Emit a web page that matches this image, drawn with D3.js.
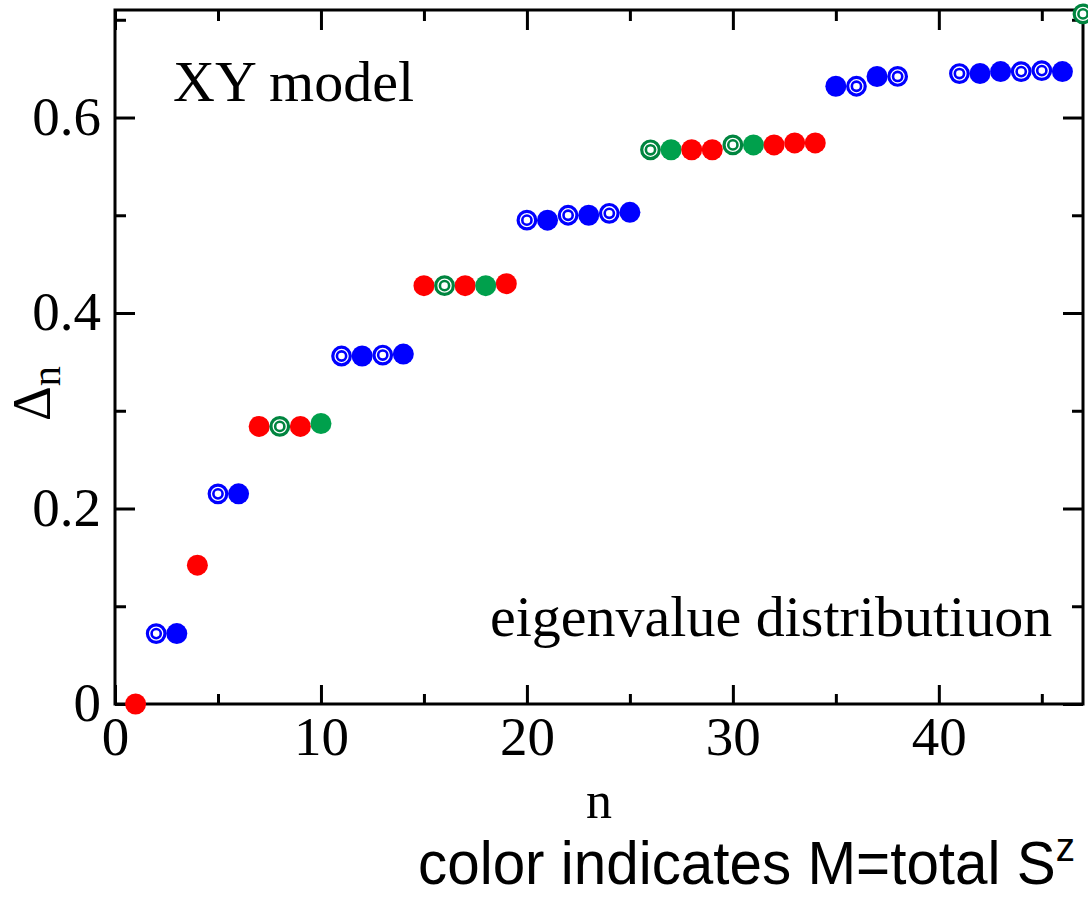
<!DOCTYPE html>
<html>
<head>
<meta charset="utf-8">
<script src="https://cdn.jsdelivr.net/npm/d3@7"></script>
<style>
  html, body { margin: 0; padding: 0; background: #fff; }
  svg { display: block; }
</style>
</head>
<body>
<svg id="chart" width="1088" height="898"></svg>
<script>
// ---- data ----
const nValues = [1,2,3,4,5,6,7,8,9,10,11,12,13,14,15,16,17,18,19,20,21,22,23,24,25,26,27,28,29,30,31,32,33,34,35,36,37,38,41,42,43,44,45,46,47];
const deltaValues = [0.000,0.072,0.072,0.142,0.215,0.215,0.284,0.284,0.284,0.287,
                     0.356,0.356,0.357,0.358,0.428,0.428,0.428,0.428,0.430,
                     0.495,0.495,0.500,0.500,0.502,0.503,
                     0.567,0.567,0.567,0.567,0.572,0.572,0.572,0.574,0.574,
                     0.632,0.632,0.642,0.642,0.645,0.645,0.647,0.647,0.648,0.647,0.706];
// M sector colour key: r = red, b = blue, g = green
const sectorKeys = ["r","b","b","r","b","b","r","g","r","g",
                    "b","b","b","b","r","g","r","g","r",
                    "b","b","b","b","b","b",
                    "g","g","r","r","g","g","r","r","r",
                    "b","b","b","b","b","b","b","b","b","b","g"];
// marker kind: f = filled circle, o = double ring
const markerKinds = ["f","o","f","f","o","f","f","o","f","f",
                     "o","f","o","f","f","o","f","f","f",
                     "o","f","o","f","o","f",
                     "o","f","f","f","o","f","f","f","f",
                     "f","o","f","o","o","f","f","o","o","f","o"];
const xMajorTicks = [0,10,20,30,40];
const xMinorTicks = [5,15,25,35,45];
const yMajorTicks = [0,0.2,0.4,0.6];
const yMinorTicks = [0.1,0.3,0.5,0.7];
const yTickLabels = ["0","0.2","0.4","0.6"];

const fillColor = {r:"#ff0000", b:"#0000ff", g:"#00a04c"};
const ringColor = {r:"#ff0000", b:"#0000ff", g:"#00853f"};

const points = nValues.map((n,i)=>({n, d: deltaValues[i], k: sectorKeys[i], m: markerKinds[i]}));

// ---- layout ----
const svg = d3.select("#chart");
const L = 115, R = 1083, T = 10, B = 704;
const x = d3.scaleLinear().domain([0,47]).range([L,R]);
const y = d3.scaleLinear().domain([0,0.71]).range([B,T]);
const serif = "'Liberation Serif','Times New Roman',Times,serif";

// frame
svg.append("rect").attr("x",L).attr("y",T).attr("width",R-L).attr("height",B-T)
  .attr("fill","none").attr("stroke","#000").attr("stroke-width",3);

function styleAxis(g){
  g.select(".domain").remove();
  g.selectAll(".tick line").attr("stroke","#000").attr("stroke-width",3);
}
// bottom
svg.append("g").attr("transform",`translate(0,${B})`)
  .call(d3.axisBottom(x).tickValues(xMajorTicks).tickSizeInner(-19).tickSizeOuter(0).tickPadding(14).tickFormat(d3.format("d")))
  .call(styleAxis)
  .call(g=>g.selectAll("text").attr("font-family",serif).attr("font-size",55).attr("fill","#000").attr("dy","0.76em").attr("y",9));
svg.append("g").attr("transform",`translate(0,${B})`)
  .call(d3.axisBottom(x).tickValues(xMinorTicks).tickSizeInner(-10).tickSizeOuter(0).tickFormat(""))
  .call(styleAxis);
// top
svg.append("g").attr("transform",`translate(0,${T})`)
  .call(d3.axisTop(x).tickValues(xMajorTicks).tickSizeInner(-20).tickSizeOuter(0).tickFormat(""))
  .call(styleAxis);
svg.append("g").attr("transform",`translate(0,${T})`)
  .call(d3.axisTop(x).tickValues(xMinorTicks).tickSizeInner(-11).tickSizeOuter(0).tickFormat(""))
  .call(styleAxis);
// left
svg.append("g").attr("transform",`translate(${L},0)`)
  .call(d3.axisLeft(y).tickValues(yMajorTicks).tickSizeInner(-20).tickSizeOuter(0).tickPadding(15)
        .tickFormat((d,i)=>yTickLabels[i]))
  .call(styleAxis)
  .call(g=>g.selectAll("text").attr("font-family",serif).attr("font-size",55).attr("fill","#000").attr("x",-14).attr("dy","0.3em"));
svg.append("g").attr("transform",`translate(${L},0)`)
  .call(d3.axisLeft(y).tickValues(yMinorTicks).tickSizeInner(-11).tickSizeOuter(0).tickFormat(""))
  .call(styleAxis);
// right
svg.append("g").attr("transform",`translate(${R},0)`)
  .call(d3.axisRight(y).tickValues(yMajorTicks).tickSizeInner(-20).tickSizeOuter(0).tickFormat(""))
  .call(styleAxis);
svg.append("g").attr("transform",`translate(${R},0)`)
  .call(d3.axisRight(y).tickValues(yMinorTicks).tickSizeInner(-11).tickSizeOuter(0).tickFormat(""))
  .call(styleAxis);

// markers
const mk = svg.append("g");
const filled = points.filter(p=>p.m==="f");
const rings = points.filter(p=>p.m==="o");
mk.selectAll("circle.f").data(filled).join("circle").attr("class","f")
  .attr("cx",p=>x(p.n)).attr("cy",p=>y(p.d)).attr("r",10.5).attr("fill",p=>fillColor[p.k]);
mk.selectAll("circle.o1").data(rings).join("circle").attr("class","o1")
  .attr("cx",p=>x(p.n)).attr("cy",p=>y(p.d)).attr("r",8.8)
  .attr("fill","#fff").attr("stroke",p=>ringColor[p.k]).attr("stroke-width",3.2);
mk.selectAll("circle.o2").data(rings).join("circle").attr("class","o2")
  .attr("cx",p=>x(p.n)).attr("cy",p=>y(p.d)).attr("r",4.6)
  .attr("fill","none").attr("stroke",p=>ringColor[p.k]).attr("stroke-width",2.6);

// texts
svg.append("text").attr("x",173).attr("y",101).attr("font-family",serif).attr("font-size",58)
  .attr("fill","#000").text("XY model");
svg.append("text").attr("x",490).attr("y",636).attr("font-family",serif).attr("font-size",58)
  .attr("fill","#000").text("eigenvalue distributiuon");
svg.append("text").attr("x",599).attr("y",818).attr("text-anchor","middle").attr("font-family",serif).attr("font-size",52)
  .attr("fill","#000").text("n");
// y label: rotated Delta with subscript n
const yl = svg.append("text").attr("transform","translate(50,421) rotate(-90)")
  .attr("font-family",serif).attr("font-size",54).attr("fill","#000");
yl.append("tspan").text("Δ");
yl.append("tspan").attr("font-size",40).attr("dy",10).text("n");
// bottom caption (condensed sans, fitted to the reference width)
const capW = 657, capX = 418;
const capG = svg.append("g");
const cap = capG.append("text").attr("x",0).attr("y",0)
  .attr("font-family","'Liberation Sans',Arial,sans-serif").attr("font-size",62).attr("fill","#000");
cap.append("tspan").text("color indicates M=total S");
cap.append("tspan").attr("font-size",41).attr("dy",-23).text("z");
const bw = cap.node().getBBox().width;
capG.attr("transform",`translate(${capX},884) scale(${capW/bw},1)`);
</script>
</body>
</html>
